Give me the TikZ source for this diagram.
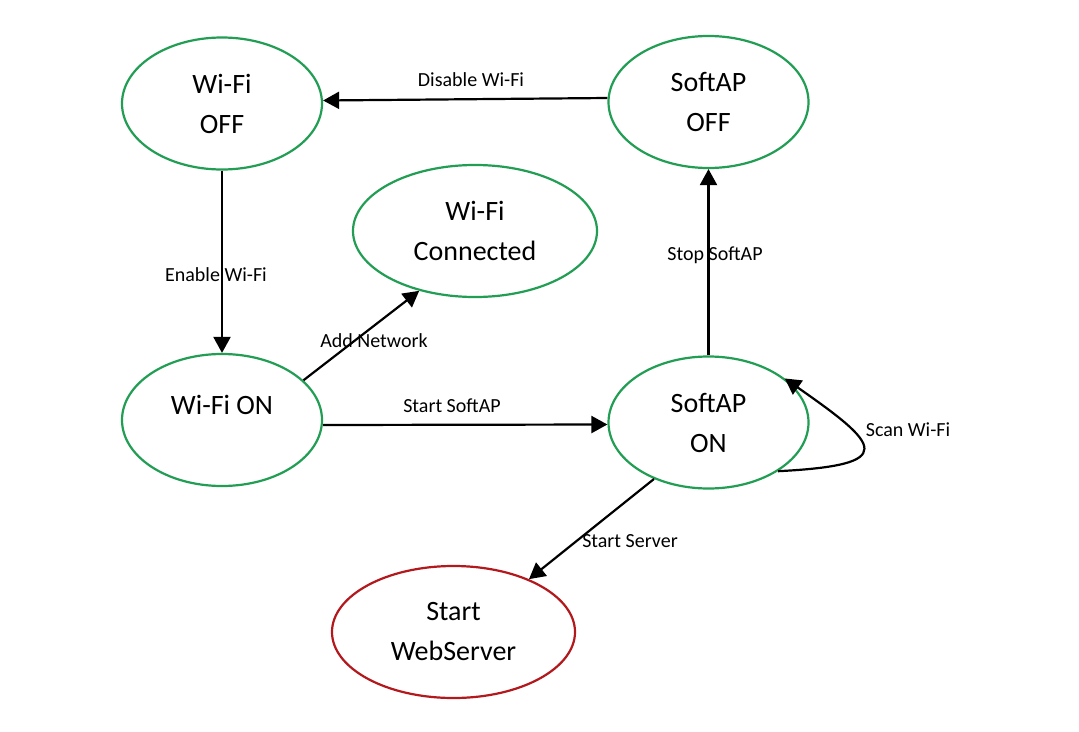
\documentclass[tikz,border=0pt]{standalone}
\usepackage{fontspec}
\setmainfont{Carlito}
\usetikzlibrary{positioning,shapes.geometric,arrows.meta}
\definecolor{stategreen}{RGB}{34,158,84}
\definecolor{statered}{RGB}{178,24,28}
\tikzset{>={Triangle[length=16pt,width=17pt]}}
\tikzset{
  state/.style={draw=stategreen,line width=2.2pt,ellipse,inner sep=0pt,
    minimum width=200pt,minimum height=132pt,align=center,
    font=\fontsize{28}{40}\selectfont},
  endstate/.style={state,draw=statered},
  lbl/.style={font=\fontsize{20}{24}\selectfont,inner sep=1pt},
  trans/.style={->,line width=2.2pt}
}

\begin{document}
\begin{tikzpicture}[x=1pt,y=-1pt]
\useasboundingbox[fill=white] (0,0) rectangle (1079,731);
% states
\node[state] (wifioff) at (222,103.5) {Wi-Fi\\OFF};
\node[state] (sapoff) at (708.5,102) {SoftAP\\OFF};
\node[state,minimum width=244pt] (wificonn) at (475,231) {Wi-Fi\\Connected};
\node[state] (wifion) at (222,420) {Wi-Fi ON\\[-10pt]\mbox{}};
\node[state] (sapon) at (708.5,422.5) {SoftAP\\ON};
\node[endstate,minimum width=243pt] (websrv) at (453.5,632) {Start\\WebServer};
% transitions
\draw[trans] ([yshift=4pt]sapoff.west) -- ([yshift=3pt]wifioff.east);
\draw[trans] (wifioff.south) -- (wifion.north);
\draw[trans] (sapon.north) -- (sapoff.south);
\draw[trans] (wifion.26) -- (wificonn.227);
\draw[trans] ([yshift=-5pt]wifion.east) -- ([yshift=-2pt]sapon.west);
\draw[trans] (sapon.226) -- (websrv.35);
\draw[trans] (sapon.-35) .. controls (900,465) and (880,445) .. (sapon.30);
% labels
\node[lbl] (ldisable) at (471,80) {Disable Wi-Fi};
\node[lbl] (lenable) at (216,275) {Enable Wi-Fi};
\node[lbl] (lstop) at (715,255) {Stop SoftAP};
\node[lbl] (ladd) at (374,341) {Add Network};
\node[lbl] (lstart) at (452,406) {Start SoftAP};
\node[lbl] (lserver) at (630,541) {Start Server};
\node[lbl] (lscan) at (908,430) {Scan Wi-Fi};
\end{tikzpicture}
\end{document}
